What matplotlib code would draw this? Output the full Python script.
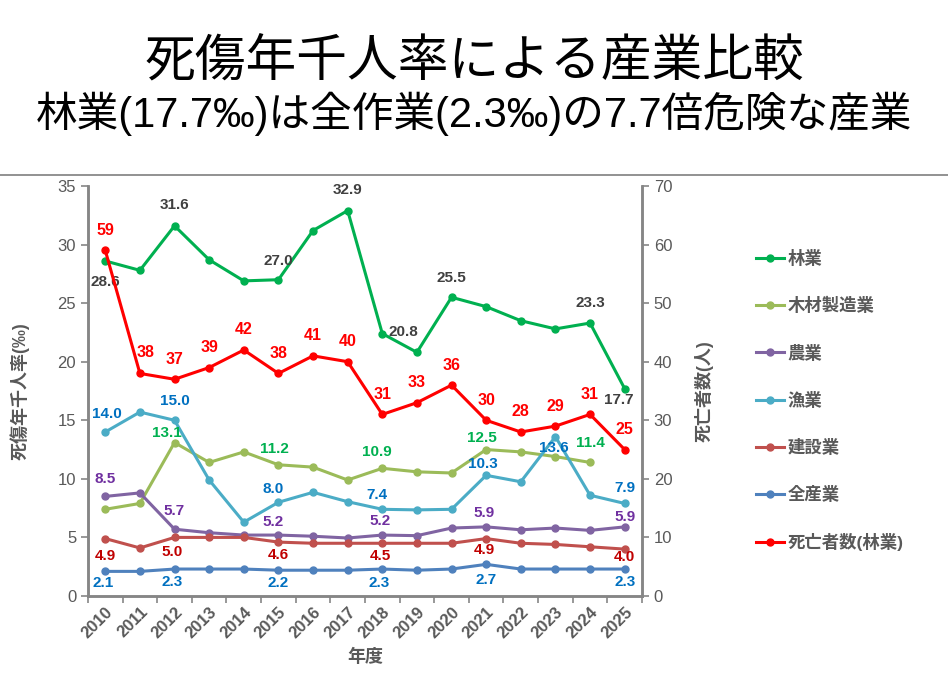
import matplotlib
matplotlib.use('Agg')
import matplotlib.pyplot as plt
from matplotlib.lines import Line2D

plt.rcParams['font.family'] = ['Liberation Sans', 'Noto Sans CJK JP', 'DejaVu Sans']

years = [str(y) for y in range(2010, 2026)]

forestry = [28.6, 27.8, 31.6, 28.7, 26.9, 27.0, 31.2, 32.9, 22.4, 20.8, 25.5, 24.7, 23.5, 22.8, 23.3, 17.7]
wood_mfg = [7.4, 7.9, 13.1, 11.4, 12.3, 11.2, 11.0, 9.9, 10.9, 10.6, 10.5, 12.5, 12.3, 11.9, 11.4, None]
agri = [8.5, 8.8, 5.7, 5.4, 5.2, 5.2, 5.1, 4.95, 5.2, 5.15, 5.8, 5.9, 5.65, 5.8, 5.6, 5.9]
fishery = [14.0, 15.7, 15.0, 9.9, 6.3, 8.0, 8.85, 8.05, 7.4, 7.35, 7.4, 10.3, 9.75, 13.6, 8.6, 7.9]
construction = [4.9, 4.1, 5.0, 5.0, 5.0, 4.6, 4.5, 4.5, 4.5, 4.5, 4.5, 4.9, 4.5, 4.4, 4.2, 4.0]
all_ind = [2.1, 2.1, 2.3, 2.3, 2.3, 2.2, 2.2, 2.2, 2.3, 2.2, 2.3, 2.7, 2.3, 2.3, 2.3, 2.3]
deaths = [59, 38, 37, 39, 42, 38, 41, 40, 31, 33, 36, 30, 28, 29, 31, 25]

names = ['林業', '木材製造業', '農業', '漁業', '建設業', '全産業', '死亡者数(林業)']

# which points get a data label, and the label offset in pixels
lab_forestry = {0: (0, -21), 2: (0, 21), 5: (0, 19), 7: (0, 21), 9: (-14, 20),
                10: (0, 19), 14: (0, 20), 15: (-6, -11)}
lab_wood = {2: (-8, 10), 5: (-4, 16), 8: (-5, 16), 11: (-4, 12), 14: (0, 19)}
lab_agri = {0: (0, 17), 2: (0, 18), 5: (-5, 13), 8: (-2, 14), 11: (-2, 14), 15: (0, 10)}
lab_fish = {0: (2, 18), 2: (0, 19), 5: (-5, 13), 8: (-5, 14), 11: (-3, 11), 13: (-2, -11), 15: (0, 15)}
lab_cons = {0: (0, -17), 2: (-2, -15), 5: (0, -13), 8: (-2, -13), 11: (-2, -11), 15: (0, -8)}
lab_all = {0: (-2, -12), 2: (-2, -13), 5: (0, -13), 8: (-3, -14), 11: (0, -16), 15: (0, -13)}
lab_deaths = {i: (0, 20) for i in range(16)}
lab_deaths[1] = (6, 21)

gray = '#595959'
fig = plt.figure(figsize=(9.48, 6.93), dpi=100)
ax = fig.add_axes([0.0928, 0.140, 0.5844, 0.5916])
ax2 = ax.twinx()

x = list(range(len(years)))

series = [
    (forestry, '#00B050', '#404040', lab_forestry),
    (wood_mfg, '#9BBB59', '#00B050', lab_wood),
    (agri, '#8064A2', '#7030A0', lab_agri),
    (fishery, '#4BACC6', '#0070C0', lab_fish),
    (construction, '#C0504D', '#C00000', lab_cons),
    (all_ind, '#4F81BD', '#0070C0', lab_all),
]

handles = []
for (vals, c, tc, labs), name in zip(series, names):
    xs = [i for i, v in zip(x, vals) if v is not None]
    vs = [v for v in vals if v is not None]
    h, = ax.plot(xs, vs, color=c, lw=2.2, marker='o', ms=5, label=name)
    handles.append(h)
    for i, (dx, dy) in labs.items():
        ax.annotate(f'{vals[i]:.1f}', (i, vals[i]), xytext=(dx, dy), textcoords='offset pixels',
                    ha='center', va='center', color=tc, fontsize=11, fontweight='bold')

h, = ax2.plot(x, deaths, color='#FF0000', lw=2.2, marker='o', ms=5, label=names[6])
handles.append(h)
for i, (dx, dy) in lab_deaths.items():
    ax2.annotate(str(deaths[i]), (i, deaths[i]), xytext=(dx, dy), textcoords='offset pixels',
                 ha='center', va='center', color='#FF0000', fontsize=11.5, fontweight='bold')

ax.set_xlim(-0.5, 15.5)
ax.set_ylim(0, 35)
ax2.set_ylim(0, 70)
ax.set_yticks(range(0, 36, 5))
ax2.set_yticks(range(0, 71, 10))
ax.set_xticks(x)
ax.set_xticklabels(years, rotation=45, ha='right', rotation_mode='anchor')
ax.set_xticks([i - 0.5 for i in range(17)], minor=True)
ax.tick_params(axis='x', which='major', length=0, pad=6)
ax.tick_params(axis='x', which='minor', length=5, width=1.2, color='#868686', direction='out')

for a in (ax, ax2):
    for s in ['top']:
        a.spines[s].set_visible(False)
    for s in ['left', 'right', 'bottom']:
        a.spines[s].set_color('#868686')
        a.spines[s].set_linewidth(1.8)
    a.tick_params(axis='y', length=5, width=1.2, color='#868686', labelcolor=gray, labelsize=12)
ax.tick_params(axis='x', labelcolor=gray, labelsize=12)
for t in ax.get_xticklabels():
    t.set_fontweight('bold')

ax.set_ylabel('死傷年千人率(‰)', color=gray, fontsize=13, fontweight='bold', labelpad=20)
ax2.set_ylabel('死亡者数(人)', color=gray, fontsize=13, fontweight='bold', rotation=90, labelpad=16)
ax.set_xlabel('年度', color=gray, fontsize=13, fontweight='bold', labelpad=6)

fig.legend(handles=handles, loc='upper left', bbox_to_anchor=(756 / 948, 1 - 250 / 693),
           frameon=False, labelcolor=gray, handlelength=1.6, handletextpad=0.2,
           labelspacing=1.74, borderpad=0, borderaxespad=0,
           prop={'weight': 'bold', 'size': 12.5})

fig.text(0.5, 1 - 63 / 693, '死傷年千人率による産業比較', ha='center', va='center', fontsize=36.5)
fig.text(0.5, 1 - 114 / 693, '林業(17.7‰)は全作業(2.3‰)の7.7倍危険な産業', ha='center', va='center', fontsize=30)
fig.add_artist(Line2D([0, 1], [1 - 175 / 693, 1 - 175 / 693], color='#7F7F7F', lw=1.2))

fig.savefig('out.png', dpi=100)
